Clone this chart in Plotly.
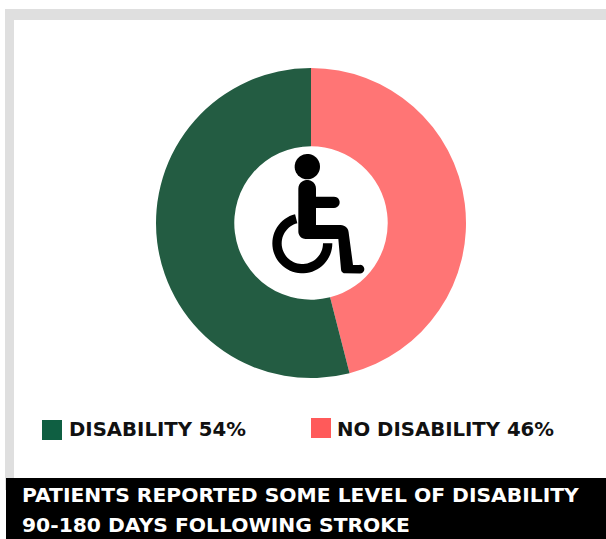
import numpy as np
import plotly.graph_objects as go

W, H = 606, 539

labels = ["NO DISABILITY", "DISABILITY"]
values = [46, 54]
slice_colors = ["#FF7575", "#235C42"]
swatch_colors = ["#FF5A5A", "#0F5F42"]
title_lines = ["PATIENTS REPORTED SOME LEVEL OF DISABILITY", "90-180 DAYS FOLLOWING STROKE"]

FONT = "DejaVu Sans, Arial, sans-serif"


def px(x):
    return x / W


def py(y):
    return 1 - y / H


def path_of(points):
    return "M" + "L".join(f"{px(x):.5f},{py(y):.5f}" for x, y in points) + "Z"


def rect(x0, y0, x1, y1, color):
    return dict(type="rect", xref="paper", yref="paper", layer="below",
                x0=px(x0), x1=px(x1), y0=py(y0), y1=py(y1),
                fillcolor=color, line_width=0)


def arc(cx, cy, r, a0, a1, n=40):
    # Angles in degrees, measured clockwise from the positive x direction on screen
    t = np.radians(np.linspace(a0, a1, n))
    return [(cx + r * np.cos(v), cy + r * np.sin(v)) for v in t]


# Wheelchair pictogram in the middle of the ring
def icon_shapes():
    ox, oy = 230, 140
    s = 1 / 3

    def P(pts):
        return [(ox + x * s, oy + y * s) for x, y in pts]

    head = P(arc(232, 80, 38, 0, 360, 48))
    body = P(
        arc(231.5, 146, 26.5, 180, 360, 14)
        + [(258, 170), (312, 170)]
        + arc(312, 187, 17, -90, 90, 12)
        + [(258, 204), (258, 255), (330, 255)]
        + arc(332, 279, 24, -90, -8, 8)
        + [(369, 375), (388, 375)]
        + arc(390, 387.5, 13, -90, 90, 10)
        + [(345, 400)]
        + arc(345, 388, 12, 90, 180, 6)
        + [(325, 297), (227, 297)]
        + arc(227, 275, 22, 90, 180, 8)
    )
    wheel = P(
        arc(217, 310, 90, -104, -360, 48)
        + arc(217, 310, 62, -360, -104, 48)
    )
    return [
        dict(type="path", xref="paper", yref="paper", path=path_of(p),
             fillcolor="#000000", line_width=0, layer="above")
        for p in (head, body, wheel)
    ]


fig = go.Figure(
    go.Pie(
        labels=labels,
        values=values,
        hole=0.495,
        sort=False,
        direction="clockwise",
        rotation=0,
        marker=dict(colors=slice_colors, line_width=0),
        textinfo="none",
        hoverinfo="label+percent",
        domain=dict(x=[px(156), px(466)], y=[py(378), py(68)]),
    )
)

shapes = [
    rect(5, 9, W, 20, "#DFDFDF"),
    rect(5, 20, 14, 490, "#DFDFDF"),
    rect(6, 478, W, H, "#000000"),
    rect(42, 420, 62, 440, swatch_colors[1]),
    rect(311, 418, 331, 438, swatch_colors[0]),
]
shapes += icon_shapes()

annotations = []


def text(x, y, s, color, size):
    annotations.append(dict(
        x=px(x), y=py(y), xref="paper", yref="paper", text=s, showarrow=False,
        xanchor="left", yanchor="middle", align="left",
        font=dict(family=FONT, size=size, color=color, weight=700),
    ))


text(67, 429.5, f"{labels[1]} {values[1]}%", "#111111", 19.7)
text(335, 429.5, f"{labels[0]} {values[0]}%", "#111111", 19.7)
text(20, 495, title_lines[0], "#FFFFFF", 20.3)
text(20, 525, title_lines[1], "#FFFFFF", 20.3)

fig.update_layout(
    width=W, height=H,
    margin=dict(l=0, r=0, t=0, b=0),
    paper_bgcolor="#FFFFFF",
    showlegend=False,
    shapes=shapes,
    annotations=annotations,
)

fig.write_html("out.html")
